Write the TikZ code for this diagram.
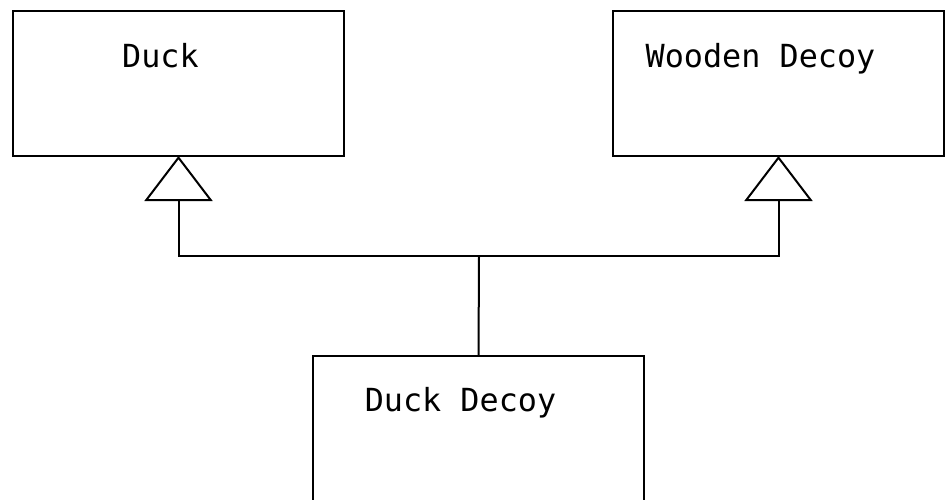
\documentclass[tikz,border=0pt]{standalone}
\usepackage{fontspec}
\setmonofont{DejaVu Sans Mono}
\usetikzlibrary{arrows.meta,positioning}

\begin{document}
\begin{tikzpicture}[x=1pt,y=-1pt,line width=2pt,
	classbox/.style={draw,rectangle,minimum width=331pt,minimum height=145pt,outer sep=0pt,inner sep=0pt},
	classname/.style={anchor=base,inner sep=0pt,font=\ttfamily\fontsize{31.8pt}{38pt}\selectfont},
	inherit/.style={-{Triangle[open,length=45pt,width=68pt]}}]
	\useasboundingbox (0,0) rectangle (947,499);
	
	\node[classbox] (duck) at (178.5,83.5) {};
	\node[classbox] (wood) at (778.5,83.5) {};
	\node[classbox] (ddecoy) at (478.5,428) {};
	
	\node[classname] (duckname) at ([xshift=-18pt,yshift=-56pt]duck.north) {Duck};
	\node[classname] (woodname) at ([xshift=-18pt,yshift=-56pt]wood.north) {Wooden Decoy};
	\node[classname] (ddecoyname) at ([xshift=-18pt,yshift=-56pt]ddecoy.north) {Duck Decoy};
	
	\coordinate (bus) at (479,256);
	\draw (ddecoy.north) -- (bus);
	\draw[inherit] (bus) -| (duck.south);
	\draw[inherit] (bus) -| (wood.south);
\end{tikzpicture}
\end{document}
